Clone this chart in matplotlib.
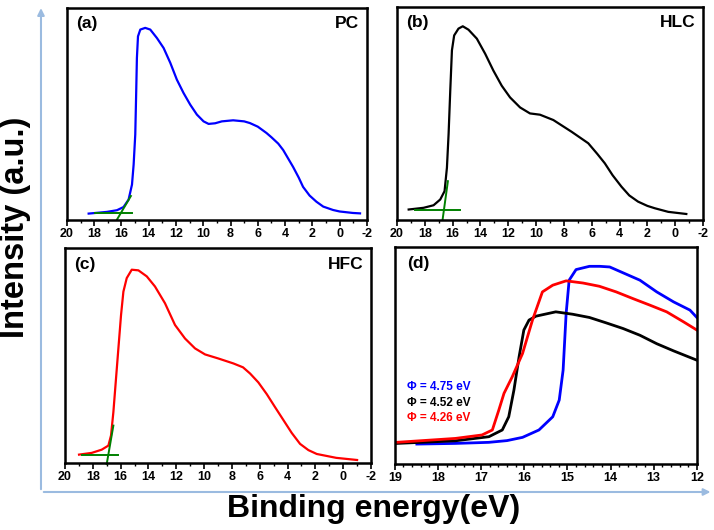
import matplotlib
matplotlib.use("Agg")
import matplotlib.pyplot as plt
from matplotlib.patches import FancyArrowPatch
from matplotlib.ticker import MultipleLocator

plt.rcParams["font.family"] = ["Liberation Sans", "DejaVu Sans"]
plt.rcParams["font.weight"] = "bold"
plt.rcParams["axes.unicode_minus"] = False

# (a) PC
pc_e = [18.41, 17.07, 16.33, 15.85, 15.48, 15.23, 15.11, 14.99, 14.92, 14.87, 14.79, 14.62, 14.26,
        13.89, 13.4, 12.91, 12.42, 11.94, 11.45, 10.96, 10.47, 9.98, 9.61, 9.13, 8.64, 7.81, 7.0,
        6.58, 6.0, 5.36, 5.0, 4.5, 4.14, 3.41, 3.0, 2.68, 2.2, 1.7, 1.2, 0.48, 0.0, -0.97, -1.5]
pc_i = [0.03, 0.038, 0.046, 0.061, 0.096, 0.167, 0.261, 0.403, 0.607, 0.764, 0.866, 0.898, 0.906,
        0.898, 0.858, 0.811, 0.741, 0.662, 0.599, 0.544, 0.497, 0.465, 0.453, 0.456, 0.465, 0.47,
        0.465, 0.457, 0.44, 0.41, 0.39, 0.36, 0.33, 0.25, 0.20, 0.156, 0.115, 0.086, 0.063, 0.047,
        0.04, 0.033, 0.031]
pc_base_e = [17.92, 15.23]
pc_base_i = [0.033, 0.033]
pc_tan_e = [16.33, 15.31]
pc_tan_i = [0.002, 0.113]

# (b) HLC
hlc_e = [19.16, 18.09, 17.37, 16.89, 16.58, 16.41, 16.29, 16.17, 16.05, 15.89, 15.58, 15.27, 14.86,
         14.26, 13.66, 13.07, 12.47, 11.87, 11.15, 10.44, 9.72, 8.76, 7.45, 6.25, 5.6, 5.06, 4.5,
         3.86, 3.3, 2.67, 2.0, 1.47, 0.5, -0.8]
hlc_i = [0.049, 0.057, 0.069, 0.096, 0.135, 0.245, 0.403, 0.607, 0.796, 0.866, 0.898, 0.909, 0.893,
         0.851, 0.78, 0.701, 0.63, 0.575, 0.528, 0.5, 0.494, 0.469, 0.414, 0.36, 0.31, 0.266, 0.21,
         0.156, 0.115, 0.086, 0.066, 0.055, 0.038, 0.028]
hlc_base_e = [18.68, 15.46]
hlc_base_i = [0.049, 0.049]
hlc_tan_e = [16.72, 16.34]
hlc_tan_i = [0.002, 0.182]

# (c) HFC
hfc_e = [18.99, 18.08, 17.36, 16.88, 16.69, 16.52, 16.35, 16.16, 15.97, 15.8, 15.56, 15.2, 14.72,
         14.12, 13.53, 12.81, 12.09, 11.37, 10.65, 9.93, 8.97, 7.89, 7.2, 6.69, 6.1, 5.49, 4.9,
         4.3, 3.7, 3.1, 2.5, 1.9, 0.5, -1.0]
hfc_i = [0.039, 0.047, 0.062, 0.081, 0.128, 0.237, 0.377, 0.533, 0.688, 0.797, 0.86, 0.899, 0.896,
         0.868, 0.821, 0.743, 0.642, 0.579, 0.533, 0.505, 0.486, 0.463, 0.445, 0.416, 0.375, 0.32,
         0.26, 0.2, 0.14, 0.089, 0.06, 0.042, 0.024, 0.014]
hfc_base_e = [18.8, 16.16]
hfc_base_i = [0.039, 0.039]
hfc_tan_e = [17.0, 16.52]
hfc_tan_i = [-0.005, 0.174]

# (d) cut-off region
d_blue_e = [18.49, 17.6, 16.82, 16.4, 16.04, 15.66, 15.34, 15.19, 15.10, 15.03, 14.96, 14.8, 14.49,
            14.25, 14.02, 13.71, 13.32, 12.93, 12.54, 12.16, 12.0]
d_blue_i = [0.092, 0.095, 0.1, 0.108, 0.123, 0.157, 0.218, 0.295, 0.433, 0.694, 0.848, 0.897, 0.912,
            0.912, 0.909, 0.882, 0.848, 0.794, 0.748, 0.71, 0.676]
d_black_e = [18.96, 17.6, 16.82, 16.51, 16.36, 16.24, 16.12, 16.01, 15.89, 15.73, 15.27, 14.88,
             14.49, 14.1, 13.71, 13.32, 12.93, 12.54, 12.0]
d_black_i = [0.095, 0.107, 0.126, 0.157, 0.218, 0.341, 0.495, 0.618, 0.664, 0.682, 0.702, 0.691,
             0.676, 0.651, 0.625, 0.594, 0.555, 0.522, 0.479]
d_red_e = [18.96, 17.6, 16.98, 16.74, 16.59, 16.47, 16.28, 16.04, 15.81, 15.58, 15.34, 15.03,
           14.64, 14.26, 13.87, 13.48, 13.09, 12.7, 12.31, 12.0]
d_red_i = [0.1, 0.118, 0.134, 0.157, 0.249, 0.326, 0.402, 0.51, 0.664, 0.794, 0.825, 0.845,
           0.835, 0.82, 0.794, 0.763, 0.733, 0.702, 0.656, 0.618]
d_labels = ["\u03a6 = 4.75 eV", "\u03a6 = 4.52 eV", "\u03a6 = 4.26 eV"]

fig = plt.figure(figsize=(7.14, 5.30), dpi=100)


def style_axes(ax, xmax, xmin, major, minor):
    ax.set_xlim(xmax, xmin)
    ax.set_ylim(0, 1)
    ax.set_yticks([])
    ax.xaxis.set_major_locator(MultipleLocator(major))
    ax.xaxis.set_minor_locator(MultipleLocator(minor))
    ax.tick_params(axis="x", direction="out", length=4, width=1.2, labelsize=9, pad=2)
    ax.tick_params(axis="x", which="minor", direction="out", length=2, width=1)
    for sp in ax.spines.values():
        sp.set_linewidth(1.8)
    for lab in ax.get_xticklabels():
        lab.set_fontweight("bold")


panels = [
    ([0.0938, 0.585, 0.420, 0.400], pc_e, pc_i, "blue", pc_base_e, pc_base_i, pc_tan_e, pc_tan_i, "(a)", "PC"),
    ([0.556, 0.585, 0.4286, 0.402], hlc_e, hlc_i, "black", hlc_base_e, hlc_base_i, hlc_tan_e, hlc_tan_i, "(b)", "HLC"),
    ([0.091, 0.1264, 0.4286, 0.4057], hfc_e, hfc_i, "red", hfc_base_e, hfc_base_i, hfc_tan_e, hfc_tan_i, "(c)", "HFC"),
]
for rect, e, i, col, be, bi, te, ti, tag, name in panels:
    ax = fig.add_axes(rect)
    ax.plot(e, i, color=col, lw=1.6)
    ax.plot(be, bi, color="green", lw=1.4)
    ax.plot(te, ti, color="green", lw=1.4, clip_on=False)
    style_axes(ax, 20, -2, 2, 1)
    ax.text(0.03, 0.96, tag, transform=ax.transAxes, ha="left", va="top", fontsize=12.5, fontweight="bold")
    ax.text(0.975, 0.96, name, transform=ax.transAxes, ha="right", va="top", fontsize=12.5, fontweight="bold")

ax = fig.add_axes([0.553, 0.1245, 0.423, 0.409])
ax.plot(d_blue_e, d_blue_i, color="blue", lw=2)
ax.plot(d_black_e, d_black_i, color="black", lw=2)
ax.plot(d_red_e, d_red_i, color="red", lw=2)
style_axes(ax, 19, 12, 1, 0.2)
ax.text(0.04, 0.96, "(d)", transform=ax.transAxes, ha="left", va="top", fontsize=12.5, fontweight="bold")
for k, (lab, col) in enumerate(zip(d_labels, ["blue", "black", "red"])):
    ax.text(0.04, 0.355 - k * 0.072, lab, transform=ax.transAxes, color=col,
            ha="left", va="center", fontsize=8.5, fontweight="bold")

# big axis arrows around the whole figure
arrow_col = "#9bbbe0"
fig.add_artist(FancyArrowPatch((0.0574, 0.0717), (0.0574, 0.99), transform=fig.transFigure,
                               arrowstyle="-|>,head_length=4,head_width=2", color=arrow_col, lw=1.5))
fig.add_artist(FancyArrowPatch((0.0574, 0.0717), (0.999, 0.0717), transform=fig.transFigure,
                               arrowstyle="-|>,head_length=4,head_width=2", color=arrow_col, lw=1.5))

fig.text(0.022, 0.572, "Intensity (a.u.)", rotation=90, ha="center", va="center", fontsize=23.5, fontweight="bold")
fig.text(0.523, 0.04, "Binding energy(eV)", ha="center", va="center", fontsize=23, fontweight="bold")

fig.savefig("out.png", dpi=100)
